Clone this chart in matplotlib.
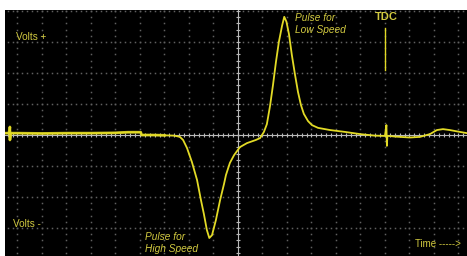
# -*- coding: utf-8 -*-
import numpy as np
import matplotlib
matplotlib.use('Agg')
import matplotlib.pyplot as plt

# trace, in divisions (x: time, y: volts), centre = 0
trace_x = [-9.51, -9.35, -9.31, -9.31, -9.27, -9.0, -8.0, -7.0, -6.0, -5.0, -4.5,
           -3.97, -3.93, -3.5, -3.0, -2.6, -2.37, -2.24, -2.08, -1.88, -1.67, -1.51,
           -1.39, -1.27, -1.17, -1.06, -0.90, -0.73, -0.57, -0.49, -0.33, -0.16,
           0.08, 0.37, 0.73, 0.90, 1.06, 1.18, 1.31, 1.43, 1.55, 1.67, 1.80, 1.89,
           1.98, 2.08, 2.20, 2.33, 2.45, 2.57, 2.69, 2.86, 3.02, 3.27, 3.76, 4.37,
           4.98, 5.59, 6.0, 6.06, 6.08, 6.10, 6.16, 6.41, 7.02, 7.43, 7.84, 8.12,
           8.37, 8.65, 9.06, 9.35]
trace_y = [0.06, 0.06, 0.26, -0.16, 0.06, 0.06, 0.05, 0.06, 0.06, 0.07, 0.09,
           0.09, 0.0, 0.0, -0.01, -0.02, -0.06, -0.16, -0.42, -0.87, -1.45, -2.10,
           -2.55, -3.06, -3.32, -3.23, -2.74, -2.10, -1.58, -1.29, -0.90, -0.65,
           -0.39, -0.26, -0.16, -0.10, 0.10, 0.35, 0.94, 1.61, 2.35, 3.0, 3.52, 3.81,
           3.65, 3.26, 2.58, 1.94, 1.39, 0.97, 0.68, 0.45, 0.32, 0.23, 0.16, 0.10,
           0.03, -0.02, -0.03, 0.32, -0.35, -0.03, -0.03, -0.05, -0.08, -0.06, 0.03,
           0.16, 0.19, 0.16, 0.10, 0.06]

tdc_x = 6.02
tdc_y = [2.1, 3.45]

trace_col = '#e2da26'
text_col = '#d2ca40'

fig = plt.figure(figsize=(4.67, 2.56), dpi=100, facecolor='white')
ax = fig.add_axes([5 / 467, 0, 462 / 467, 246 / 256])
ax.set_facecolor('black')
ax.set_xlim(-9.51, 9.35)
ax.set_ylim(-3.9, 4.03)
for s in ax.spines.values():
    s.set_visible(False)
ax.set_xticks([])
ax.set_yticks([])

# dotted graticule
xs = np.arange(-9, 10)
ys = np.arange(-4, 5)
fine_x = np.arange(-9.6, 9.5, 0.2)
fine_y = np.arange(-4.0, 4.1, 0.2)
for x in xs:
    ax.plot(np.full_like(fine_y, x), fine_y, 's', color='#606060', ms=1.1, mew=0)
for y in ys:
    ax.plot(fine_x, np.full_like(fine_x, y), 's', color='#606060', ms=1.1, mew=0)

# centre axes with minor ticks
ax.axhline(0, color='#b8b8b8', lw=0.8)
ax.axvline(0, color='#b8b8b8', lw=0.8)
ax.plot(fine_x, np.zeros_like(fine_x), '|', color='#b8b8b8', ms=3.5, mew=0.8)
ax.plot(np.zeros_like(fine_y), fine_y, '_', color='#b8b8b8', ms=3.5, mew=0.8)

# baseline noise makes the flat parts look thicker
ax.plot(trace_x[:15], trace_y[:15], color=trace_col, lw=2.0, alpha=0.8)
ax.plot(trace_x, trace_y, color=trace_col, lw=1.3, solid_joinstyle='round')
ax.plot([tdc_x, tdc_x], tdc_y, color=trace_col, lw=1.0)

font = 'Liberation Sans'
ax.text(-9.06, 3.16, 'Volts +', color=text_col, fontsize=7.2, family=font, va='center')
ax.text(-9.18, -2.87, 'Volts -', color=text_col, fontsize=7.2, family=font, va='center')
ax.text(2.33, 3.77, 'Pulse for', color=text_col, fontsize=7.3, family=font,
        style='italic', va='center')
ax.text(2.33, 3.39, 'Low Speed', color=text_col, fontsize=7.3, family=font,
        style='italic', va='center')
ax.text(-3.8, -3.29, 'Pulse for', color=text_col, fontsize=7.3, family=font,
        style='italic', va='center')
ax.text(-3.8, -3.68, 'High Speed', color=text_col, fontsize=7.3, family=font,
        style='italic', va='center')
ax.text(7.22, -3.52, 'Time ----->', color=text_col, fontsize=7, family=font, va='center')
ax.text(6.04, 3.81, 'TDC', color=text_col, fontsize=8, family=font,
        weight='bold', ha='center', va='center')

fig.savefig('out.png', dpi=100, facecolor=fig.get_facecolor())
